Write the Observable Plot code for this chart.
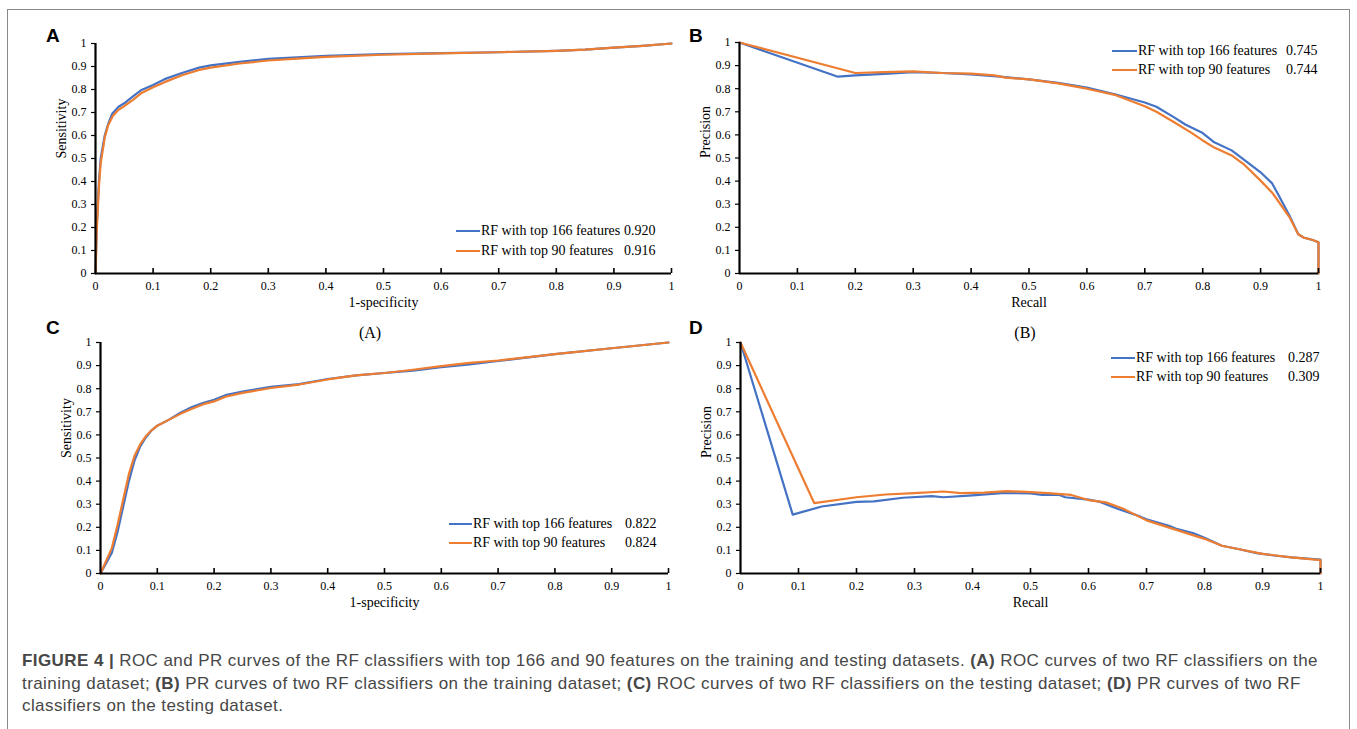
<!DOCTYPE html>
<html><head><meta charset="utf-8">
<script src="https://cdn.jsdelivr.net/npm/d3@7"></script>
<script src="https://cdn.jsdelivr.net/npm/@observablehq/plot@0.6"></script>
<style>
body{margin:0;background:#fff;overflow:hidden}
#fig{position:relative;width:1357px;height:729px;font-family:"Liberation Serif","Times New Roman",serif;color:#000}
.abs{position:absolute;white-space:nowrap}
.letter{font-family:"Liberation Sans",Arial,sans-serif;font-weight:bold;font-size:19px;line-height:20px}
.sub{font-size:16px;line-height:20px;transform:translateX(-50%)}
.leg{font-size:14px;line-height:20px;height:20px;display:flex;align-items:center}
.sw{display:inline-block;height:2.2px;margin-right:1px}
.box{position:absolute;left:7px;top:9px;width:1343px;height:760px;border:1.5px solid #8a8a8a;box-sizing:border-box}
.cap{position:absolute;left:22px;top:650px;font-family:"Liberation Sans",Arial,sans-serif;font-size:17px;letter-spacing:0.42px;line-height:22.5px;color:#474747;white-space:nowrap}
svg{position:absolute}
</style></head><body><div id="fig"><div class="box"></div></div>
<script>
// ---- data ----
const ticks = [0, 0.1, 0.2, 0.3, 0.4, 0.5, 0.6, 0.7, 0.8, 0.9, 1];
const seriesNames = ["RF with top 166 features", "RF with top 90 features"];
const seriesColors = ["#4472C4", "#ED7D31"];

// A: ROC, training
const rocTrain166 = [[0,0],[0.001,0.1],[0.002,0.2],[0.004,0.3],[0.006,0.4],[0.009,0.5],[0.016,0.6],[0.022,0.65],[0.029,0.695],[0.04,0.725],[0.05,0.74],[0.065,0.77],[0.08,0.798],[0.1,0.82],[0.12,0.845],[0.15,0.872],[0.18,0.895],[0.2,0.905],[0.25,0.92],[0.3,0.933],[0.35,0.94],[0.4,0.946],[0.5,0.954],[0.6,0.958],[0.7,0.962],[0.8,0.968],[0.85,0.973],[0.9,0.982],[0.95,0.99],[1,1]];
const rocTrain90 = [[0,0],[0.001,0.08],[0.002,0.18],[0.004,0.28],[0.006,0.38],[0.009,0.48],[0.016,0.59],[0.022,0.645],[0.03,0.685],[0.04,0.712],[0.05,0.728],[0.065,0.755],[0.08,0.785],[0.1,0.81],[0.12,0.832],[0.15,0.862],[0.18,0.885],[0.2,0.895],[0.25,0.913],[0.3,0.926],[0.35,0.934],[0.4,0.942],[0.5,0.951],[0.6,0.957],[0.7,0.962],[0.8,0.968],[0.85,0.973],[0.9,0.982],[0.95,0.99],[1,1]];
const aucTrain = ["0.920", "0.916"];

// B: PR, training
const prTrain166 = [[0,1],[0.17,0.852],[0.2,0.858],[0.25,0.864],[0.3,0.872],[0.35,0.868],[0.4,0.862],[0.45,0.852],[0.5,0.84],[0.55,0.825],[0.6,0.805],[0.65,0.775],[0.7,0.74],[0.72,0.722],[0.75,0.677],[0.77,0.645],[0.8,0.608],[0.82,0.568],[0.85,0.533],[0.87,0.495],[0.9,0.438],[0.92,0.39],[0.93,0.344],[0.95,0.25],[0.965,0.17],[0.975,0.155],[0.99,0.145],[1,0.135],[1,0]];
const prTrain90 = [[0,1],[0.2,0.868],[0.25,0.872],[0.3,0.875],[0.35,0.868],[0.4,0.865],[0.44,0.858],[0.46,0.848],[0.5,0.84],[0.55,0.823],[0.6,0.8],[0.65,0.772],[0.7,0.724],[0.72,0.7],[0.75,0.656],[0.78,0.61],[0.8,0.576],[0.82,0.545],[0.85,0.511],[0.87,0.475],[0.9,0.402],[0.92,0.35],[0.93,0.315],[0.95,0.243],[0.965,0.17],[0.975,0.155],[0.99,0.145],[1,0.135],[1,0]];
const apTrain = ["0.745", "0.744"];

// C: ROC, testing
const rocTest166 = [[0,0],[0.02,0.09],[0.03,0.18],[0.04,0.29],[0.05,0.4],[0.06,0.49],[0.07,0.55],[0.08,0.59],[0.09,0.62],[0.1,0.64],[0.12,0.665],[0.14,0.695],[0.16,0.72],[0.18,0.738],[0.2,0.752],[0.22,0.772],[0.25,0.788],[0.3,0.808],[0.35,0.82],[0.4,0.842],[0.45,0.858],[0.5,0.868],[0.55,0.878],[0.6,0.893],[0.65,0.905],[0.7,0.92],[0.8,0.95],[0.9,0.975],[1,1]];
const rocTest90 = [[0,0],[0.02,0.11],[0.03,0.21],[0.04,0.32],[0.05,0.43],[0.06,0.51],[0.07,0.56],[0.08,0.595],[0.09,0.62],[0.1,0.64],[0.12,0.665],[0.14,0.69],[0.16,0.712],[0.18,0.732],[0.2,0.745],[0.22,0.765],[0.25,0.782],[0.3,0.803],[0.35,0.818],[0.4,0.84],[0.45,0.858],[0.5,0.868],[0.55,0.882],[0.6,0.898],[0.65,0.912],[0.7,0.922],[0.8,0.95],[0.9,0.975],[1,1]];
const aucTest = ["0.822", "0.824"];

// D: PR, testing
const prTest166 = [[0,1],[0.09,0.255],[0.14,0.29],[0.2,0.31],[0.23,0.312],[0.28,0.328],[0.33,0.335],[0.35,0.33],[0.4,0.338],[0.45,0.348],[0.5,0.347],[0.52,0.34],[0.55,0.34],[0.56,0.33],[0.6,0.32],[0.62,0.31],[0.65,0.28],[0.68,0.255],[0.7,0.235],[0.74,0.205],[0.75,0.195],[0.78,0.175],[0.8,0.155],[0.83,0.12],[0.86,0.105],[0.89,0.088],[0.92,0.078],[0.95,0.07],[1,0.06],[1,0]];
const prTest90 = [[0,1],[0.127,0.305],[0.2,0.33],[0.25,0.342],[0.3,0.348],[0.35,0.355],[0.38,0.348],[0.42,0.35],[0.46,0.357],[0.5,0.352],[0.53,0.348],[0.57,0.34],[0.6,0.318],[0.63,0.308],[0.66,0.28],[0.7,0.23],[0.75,0.19],[0.8,0.15],[0.83,0.12],[0.86,0.105],[0.9,0.085],[0.95,0.07],[1,0.058],[1,0]];
const apTest = ["0.287", "0.309"];

// ---- layout ----
const fig = document.getElementById("fig");
const fmt = d => String(+d.toFixed(1));
const ML = 60, MR = 15, MT = 15, MB = 50;

function addDiv(cls, left, top, html) {
  const d = document.createElement("div");
  d.className = "abs " + cls;
  d.style.left = left + "px"; d.style.top = top + "px";
  d.innerHTML = html;
  fig.appendChild(d);
  return d;
}

function panel(p) {
  const pw = p.x1 - p.x0, ph = p.yb - p.yt;
  const W = pw + ML + MR, H = ph + MT + MB;
  const svg = Plot.plot({
    width: W, height: H,
    marginLeft: ML, marginRight: MR, marginTop: MT, marginBottom: MB,
    x: {domain: [0, 1]}, y: {domain: [0, 1]},
    style: {fontFamily: '"Liberation Serif","Times New Roman",serif', fontSize: "12px", background: "transparent", overflow: "visible", color: "#000"},
    marks: [
      Plot.line(p.series[0], {x: d => d[0], y: d => d[1], stroke: seriesColors[0], strokeWidth: 2.2}),
      Plot.line(p.series[1], {x: d => d[0], y: d => d[1], stroke: seriesColors[1], strokeWidth: 2.2}),
      Plot.ruleX(ticks.slice(1), {stroke: "#000", strokeWidth: 1.6, insetTop: ph - 5}),
      Plot.ruleY([0], {stroke: "#000", strokeWidth: 2.2}),
      Plot.ruleX([0], {stroke: "#000", strokeWidth: 2.2}),
      Plot.axisX({ticks, tickSize: 0, tickPadding: 8, tickFormat: fmt, label: null, fontSize: 12}),
      Plot.axisY({ticks, tickSize: 4, tickPadding: 5, tickFormat: fmt, label: null, fontSize: 12, strokeWidth: 1.2}),
      Plot.text([p.xLabel], {frameAnchor: "bottom", dy: 33, fontSize: 14, fill: "#000"}),
      Plot.text([p.yLabel], {frameAnchor: "left", dx: -34, rotate: -90, fontSize: 14, fill: "#000"})
    ]
  });
  svg.style.left = (p.x0 - ML) + "px";
  svg.style.top = (p.yt - MT) + "px";
  fig.appendChild(svg);

  addDiv("letter", p.letterX, p.letterY - 10, p.letter);
  seriesNames.forEach((name, i) => {
    const y = p.legY[i];
    addDiv("leg", p.swX, y - 10,
      `<span class="sw" style="width:${p.swW}px;background:${seriesColors[i]}"></span><span>${name}</span>`);
    addDiv("leg", p.valX, y - 10, p.values[i]);
  });
}

panel({letter: "A", letterX: 46, letterY: 35.5, x0: 95, x1: 671, yt: 43, yb: 273,
  series: [rocTrain166, rocTrain90], values: aucTrain, xLabel: "1-specificity", yLabel: "Sensitivity",
  swX: 456, swW: 24, legY: [231, 250.7], valX: 624});
panel({letter: "B", letterX: 689, letterY: 35.5, x0: 739, x1: 1318, yt: 42, yb: 273,
  series: [prTrain166, prTrain90], values: apTrain, xLabel: "Recall", yLabel: "Precision",
  swX: 1112, swW: 25, legY: [50.7, 70], valX: 1286});
panel({letter: "C", letterX: 46, letterY: 328, x0: 100, x1: 668, yt: 342, yb: 573,
  series: [rocTest166, rocTest90], values: aucTest, xLabel: "1-specificity", yLabel: "Sensitivity",
  swX: 449, swW: 23, legY: [524, 543.3], valX: 625});
panel({letter: "D", letterX: 689, letterY: 328, x0: 740, x1: 1320, yt: 342, yb: 573,
  series: [prTest166, prTest90], values: apTest, xLabel: "Recall", yLabel: "Precision",
  swX: 1111, swW: 24, legY: [357.7, 377.3], valX: 1288});

addDiv("sub", 370, 323, "(A)");
addDiv("sub", 1025, 323, "(B)");

const cap = document.createElement("div");
cap.className = "cap";
cap.innerHTML = '<b>FIGURE 4 |</b> ROC and PR curves of the RF classifiers with top 166 and 90 features on the training and testing datasets. <b>(A)</b> ROC curves of two RF classifiers on the<br>' +
  'training dataset; <b>(B)</b> PR curves of two RF classifiers on the training dataset; <b>(C)</b> ROC curves of two RF classifiers on the testing dataset; <b>(D)</b> PR curves of two RF<br>' +
  'classifiers on the testing dataset.';
fig.appendChild(cap);
</script></body></html>
